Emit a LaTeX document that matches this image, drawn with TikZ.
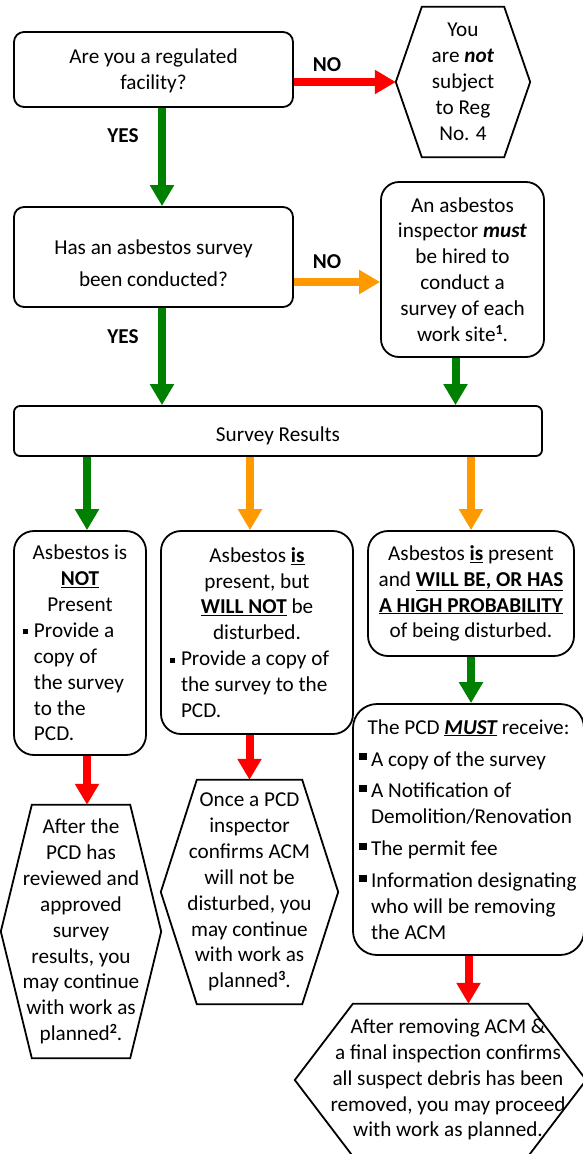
\documentclass[tikz,border=0pt]{standalone}
\usepackage{fontspec}
\setmainfont{Carlito}
\usepackage{xcolor}
\usetikzlibrary{arrows.meta}

\definecolor{flowred}{RGB}{255,0,0}
\definecolor{flowgreen}{RGB}{0,128,0}
\definecolor{floworange}{RGB}{255,153,0}

\newcommand{\sqitem}[2]{\makebox[#1][l]{\rule[3pt]{5pt}{5pt}\hspace{6pt}#2}}
\newcommand{\sqrest}[2]{\makebox[#1][l]{\hspace{11pt}#2}}
\newcommand{\blkitem}[2]{\makebox[#1][l]{\rule[6pt]{8pt}{7pt}\hspace{4pt}#2}}
\newcommand{\blkrest}[2]{\makebox[#1][l]{\hspace{12pt}#2}}
\newcommand{\hexframe}[2]{\draw[hexline] (#1.west) -- ([xshift=#2]#1.north west) -- ([xshift=-#2]#1.north east) -- (#1.east) -- ([xshift=-#2]#1.south east) -- ([xshift=#2]#1.south west) -- cycle;}
\newcommand{\supnote}[1]{\raisebox{7pt}{\fontsize{14}{14}\selectfont\textbf{#1}}}
\newcommand{\dropby}[2]{\raisebox{-#1}[\height][\depth]{#2}}

\begin{document}
\begin{tikzpicture}[x=1pt,y=-1pt]
					\tikzstyle{box} = [draw=black,line width=1.8pt,align=center,inner sep=0pt,font=\fontsize{21.2}{25.9}\selectfont]
					\tikzstyle{hexnode} = [align=center,inner sep=0pt,font=\fontsize{21.2}{25.9}\selectfont]
					\tikzstyle{hexline} = [draw=black,line width=1.8pt,line join=miter]
					\tikzstyle{flow} = [line width=8pt,-{Triangle[width=23pt,length=21pt]}]
					\tikzstyle{answer} = [font=\fontsize{21.2}{25.9}\selectfont\bfseries]
					\useasboundingbox (0,0) rectangle (583,1154);
					\node[box,rounded corners=10pt,minimum width=279pt,minimum height=75pt] (regq) at (153.5,69.5) {\dropby{2pt}{\begin{tabular}{@{}c@{}}Are you a regulated\\facility?\end{tabular}}};
					\node[hexnode,minimum width=134pt,minimum height=150pt] (notsub) at (463,82) {You\\are \textbf{\textit{not}}\\subject\\to Reg\\No. 4};
					\hexframe{notsub}{26pt}
					\node[box,rounded corners=10pt,minimum width=279pt,minimum height=100pt,font=\fontsize{21.2}{32}\selectfont] (survq) at (153.5,257) {\dropby{7pt}{\begin{tabular}{@{}c@{}}Has an asbestos survey\\been conducted?\end{tabular}}};
					\node[box,rounded corners=18pt,minimum width=163pt,minimum height=175pt] (hire) at (462.5,269.5) {An asbestos\\inspector \textbf{\textit{must}}\\be hired to\\conduct a\\survey of each\\work site\supnote{1}.};
					\node[box,rounded corners=6pt,minimum width=528pt,minimum height=50pt] (results) at (278,431) {\dropby{5pt}{Survey Results}};
					\node[box,rounded corners=20pt,minimum width=132pt,minimum height=224pt] (notpres) at (80,643) {Asbestos is\\\textbf{\underline{NOT}}\\Present\\\sqitem{114pt}{Provide a}\\\sqrest{114pt}{copy of}\\\sqrest{114pt}{the survey}\\\sqrest{114pt}{to the}\\\sqrest{114pt}{PCD.}};
					\node[box,rounded corners=20pt,minimum width=192pt,minimum height=203pt] (nodist) at (257,632.5) {Asbestos \textbf{\underline{is}}\\present, but\\\textbf{\underline{WILL NOT}} be\\disturbed.\\\sqitem{174pt}{Provide a copy of}\\\sqrest{174pt}{the survey to the}\\\sqrest{174pt}{PCD.}};
					\node[box,rounded corners=20pt,minimum width=206pt,minimum height=125pt] (dist) at (471,593.5) {Asbestos \textbf{\underline{is}} present\\and \textbf{\underline{WILL BE, OR HAS}}\\\textbf{\underline{A HIGH PROBABILITY}}\\of being disturbed.};
					\node[box,rounded corners=24pt,minimum width=231pt,minimum height=251pt] (pcdmust) at (468.5,829.5) {The PCD \textbf{\textit{\underline{MUST}}} receive:\\[6pt]\blkitem{219pt}{A copy of the survey}\\[6pt]\blkitem{219pt}{A Notification of}\\\blkrest{219pt}{Demolition/Renovation}\\[6pt]\blkitem{219pt}{The permit fee}\\[6pt]\blkitem{219pt}{Information designating}\\\blkrest{219pt}{who will be removing}\\\blkrest{219pt}{the ACM}};
					\node[hexnode,minimum width=160pt,minimum height=253pt] (approved) at (81,931.5) {After the\\PCD has\\reviewed and\\approved\\survey\\results, you\\may continue\\with work as\\planned\supnote{2}.};
					\hexframe{approved}{31pt}
					\node[hexnode,minimum width=177pt,minimum height=224pt] (confirm) at (249.5,892) {Once a PCD\\inspector\\confirms ACM\\will not be\\disturbed, you\\may continue\\with work as\\planned\supnote{3}.};
					\hexframe{confirm}{36pt}
					\node[hexnode,minimum width=291pt,minimum height=152pt] (finalinsp) at (440.5,1080) {\hspace*{15pt}\begin{tabular}{@{}c@{}}After removing ACM \&\\a final inspection confirms\\all suspect debris has been\\removed, you may proceed\\with work as planned.\end{tabular}};
					\hexframe{finalinsp}{58pt}
					\coordinate (c1) at ([xshift=8.5pt]regq.south);
					\coordinate (c2) at ([yshift=-25pt]survq.east);
					\coordinate (c3) at ([xshift=8.5pt]survq.south);
					\coordinate (c4) at ([xshift=-7pt]hire.south);
					\coordinate (c5) at ([xshift=7pt]notpres.north);
					\coordinate (c6) at ([xshift=-7pt]nodist.north);
					\coordinate (c7) at ([xshift=7pt]notpres.south);
					\draw[flow,flowred] (regq.east |- notsub.west) -- (notsub.west);
					\draw[flow,flowgreen] (c1) -- (c1 |- survq.north);
					\draw[flow,floworange] (c2) -- (c2 -| hire.west);
					\draw[flow,flowgreen] (c3) -- (c3 |- results.north);
					\draw[flow,flowgreen] (c4) -- (c4 |- results.north);
					\draw[flow,flowgreen] (c5 |- results.south) -- (c5);
					\draw[flow,floworange] (c6 |- results.south) -- (c6);
					\draw[flow,floworange] (dist.north |- results.south) -- (dist.north);
					\draw[flow,flowgreen] (dist.south) -- (dist.south |- pcdmust.north);
					\draw[flow,flowred] (c7) -- (c7 |- approved.north);
					\draw[flow,flowred] (confirm.north |- nodist.south) -- (confirm.north);
					\draw[flow,flowred] (pcdmust.south) -- (pcdmust.south |- finalinsp.north);
					\node[answer] (no1) at (327,65) {NO};
					\node[answer] (yes1) at (123,136) {YES};
					\node[answer] (no2) at (327,262) {NO};
					\node[answer] (yes2) at (123,337) {YES};
					\end{tikzpicture}
\end{document}
